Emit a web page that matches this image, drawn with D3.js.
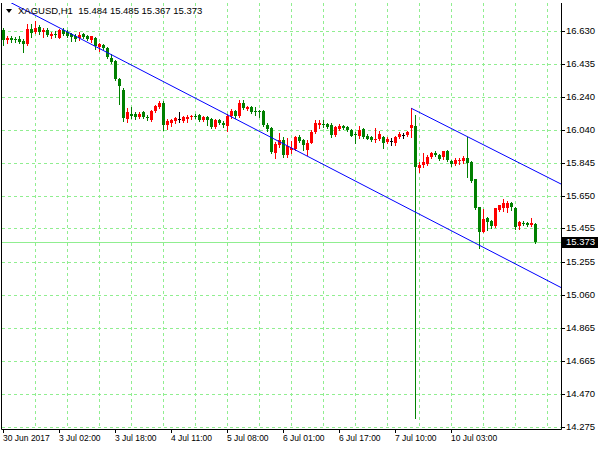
<!DOCTYPE html>
<html><head><meta charset="utf-8">
<script src="https://cdn.jsdelivr.net/npm/d3@7"></script>
<style>
html,body{margin:0;padding:0;background:#fff;}
svg{display:block;font-family:"Liberation Sans",Arial,sans-serif;}
</style>
</head><body>
<svg id="c" width="600" height="450"></svg>
<script>
// ---- data (XAGUSD H1) ----
const symbol = "XAGUSD,H1";
const open = [16.636,16.575,16.591,16.585,16.585,16.573,16.551,16.642,16.622,16.654,16.622,16.636,16.602,16.615,16.590,16.636,16.624,16.612,16.602,16.590,
16.612,16.600,16.578,16.590,16.537,16.547,16.529,16.472,16.451,16.347,16.279,16.106,16.139,16.136,16.116,16.146,16.120,16.100,16.156,16.178,
16.203,16.070,16.084,16.094,16.106,16.096,16.104,16.116,16.126,16.130,16.100,16.116,16.106,16.060,16.100,16.084,16.065,16.124,16.156,16.126,
16.204,16.166,16.180,16.156,16.156,16.154,16.070,16.051,15.903,15.951,15.981,15.892,15.922,15.926,16.001,15.981,15.922,15.965,16.031,16.070,
16.079,16.076,16.070,16.011,16.044,16.066,16.060,16.041,16.018,16.005,16.047,16.007,16.001,15.981,15.987,15.999,15.968,15.977,15.962,16.001,
16.011,16.011,16.051,16.065,15.813,15.832,15.838,15.882,15.906,15.892,15.878,15.917,15.858,15.838,15.856,15.856,15.872,15.852,15.747,15.581,
15.435,15.515,15.501,15.469,15.564,15.574,15.577,15.606,15.577,15.469,15.489,15.489,15.475,15.484];
const high = [16.648,16.600,16.600,16.594,16.600,16.582,16.672,16.672,16.690,16.666,16.645,16.645,16.627,16.630,16.642,16.645,16.636,16.618,16.612,16.622,
16.618,16.606,16.603,16.596,16.556,16.553,16.535,16.493,16.457,16.353,16.291,16.172,16.178,16.148,16.148,16.154,16.130,16.160,16.190,16.211,
16.213,16.104,16.106,16.118,16.150,16.124,16.130,16.132,16.136,16.136,16.124,16.124,16.112,16.106,16.106,16.094,16.136,16.166,16.160,16.219,
16.219,16.184,16.186,16.180,16.158,16.157,16.080,16.056,15.971,16.022,16.001,15.993,15.975,16.008,16.011,15.987,15.981,16.041,16.100,16.100,
16.100,16.082,16.080,16.065,16.074,16.072,16.067,16.047,16.027,16.065,16.053,16.015,16.008,16.051,16.032,16.008,15.999,15.992,16.005,16.026,
16.025,16.035,16.170,16.130,15.850,15.901,15.892,15.912,15.916,15.900,15.918,15.921,15.865,15.874,15.874,15.886,16.001,15.859,15.752,15.585,
15.570,15.523,15.508,15.579,15.597,15.630,15.621,15.615,15.583,15.502,15.501,15.494,15.515,15.485];
const low = [16.547,16.559,16.565,16.565,16.559,16.505,16.547,16.594,16.618,16.612,16.596,16.600,16.591,16.594,16.588,16.606,16.594,16.570,16.570,16.578,
16.588,16.576,16.566,16.523,16.511,16.520,16.469,16.440,16.338,16.195,16.094,16.091,16.115,16.109,16.112,16.112,16.100,16.094,16.148,16.172,
16.041,16.045,16.065,16.082,16.090,16.088,16.088,16.109,16.112,16.094,16.094,16.071,16.053,16.053,16.075,16.059,16.035,16.110,16.112,16.120,
16.164,16.160,16.141,16.130,16.120,16.065,16.035,15.903,15.872,15.939,15.882,15.880,15.904,15.919,15.971,15.922,15.892,15.962,16.021,16.053,
16.059,16.053,15.999,16.005,16.038,16.047,16.035,16.003,15.962,15.993,15.996,15.985,15.975,15.967,15.981,15.932,15.961,15.951,15.954,15.996,
15.991,16.005,16.001,14.326,15.793,15.820,15.832,15.872,15.886,15.862,15.870,15.856,15.826,15.832,15.841,15.844,15.763,15.731,15.570,15.341,
15.433,15.446,15.460,15.463,15.559,15.559,15.553,15.565,15.454,15.454,15.475,15.469,15.469,15.367];
const close = [16.576,16.590,16.576,16.579,16.566,16.554,16.642,16.620,16.650,16.622,16.634,16.606,16.614,16.609,16.636,16.612,16.602,16.594,16.582,16.606,
16.594,16.584,16.598,16.542,16.551,16.527,16.475,16.446,16.344,16.300,16.112,16.148,16.124,16.116,16.139,16.116,16.110,16.156,16.184,16.203,
16.070,16.093,16.100,16.110,16.106,16.116,16.120,16.126,16.121,16.100,16.116,16.100,16.057,16.100,16.081,16.070,16.126,16.156,16.124,16.204,
16.170,16.180,16.148,16.152,16.153,16.070,16.047,15.912,15.956,15.981,15.892,15.946,15.934,16.001,15.975,15.951,15.963,16.031,16.081,16.081,
16.075,16.057,16.014,16.059,16.066,16.051,16.042,16.007,16.015,16.041,16.001,15.990,15.981,15.990,16.015,15.962,15.987,15.977,16.001,16.015,
16.011,16.027,16.070,15.822,15.832,15.852,15.882,15.902,15.892,15.866,15.917,15.862,15.838,15.862,15.860,15.872,15.846,15.737,15.575,15.435,
15.509,15.495,15.469,15.575,15.594,15.608,15.606,15.581,15.465,15.495,15.485,15.475,15.489,15.373];
const priceTicks = [16.630,16.435,16.240,16.040,15.845,15.650,15.455,15.255,15.060,14.865,14.665,14.470,14.275];
const timeLabels = ["30 Jun 2017","3 Jul 02:00","3 Jul 18:00","4 Jul 11:00","5 Jul 08:00","6 Jul 01:00","6 Jul 17:00","7 Jul 10:00","10 Jul 03:00"];
const timeLabelBars = [0,14,28,42,56,70,84,98,112];
const gridBars = [8,16,24,32,40,48,56,64,72,80,88,96,104,112,120,128,136];
const lastPrice = 15.373;
// channel lines: [bar, price] anchor pairs
const lowerLine = [[2.2,16.795],[139.2,15.106]];
const upperLine = [[102,16.170],[139.2,15.722]];

// ---- layout ----
const X0=2, X1=561, Y0=3, Y1=429;
const svg = d3.select("#c");
const x = d3.scaleLinear().domain([0,133]).range([3.3,535.3]);
const y = d3.scaleLinear().domain([14.275,16.630]).range([426.7,31]);
const px = i => Math.floor(x(i));
const py = v => Math.round(y(v));
const gridCol = "#90ee90";

svg.append("defs").append("clipPath").attr("id","plot")
  .append("rect").attr("x",X0).attr("y",Y0).attr("width",X1-X0).attr("height",Y1-Y0);
const plot = svg.append("g").attr("clip-path","url(#plot)");

// grid
plot.selectAll("line.hg").data(priceTicks).join("line")
  .attr("x1",X0).attr("x2",X1).attr("y1",d=>py(d)+0.5).attr("y2",d=>py(d)+0.5)
  .attr("stroke",gridCol).attr("stroke-dasharray","3,3");
plot.selectAll("line.vg").data(gridBars).join("line")
  .attr("y1",Y0).attr("y2",Y1).attr("x1",d=>px(d)+0.5).attr("x2",d=>px(d)+0.5)
  .attr("stroke",gridCol).attr("stroke-dasharray","3,3");

// bid line
plot.append("line").attr("x1",X0).attr("x2",X1)
  .attr("y1",py(lastPrice)+0.5).attr("y2",py(lastPrice)+0.5).attr("stroke",gridCol);

// candles
const idx = d3.range(open.length);
const col = i => close[i]>open[i] ? "#ff0000" : (close[i]<open[i] ? "#008000" : "#000000");
const cg = plot.append("g");
cg.selectAll("line").data(idx).join("line")
  .attr("x1",i=>px(i)+0.5).attr("x2",i=>px(i)+0.5)
  .attr("y1",i=>py(high[i])).attr("y2",i=>py(low[i])+1)
  .attr("stroke",col);
cg.selectAll("rect").data(idx).join("rect")
  .attr("x",i=>px(i)-1).attr("width",3)
  .attr("y",i=>py(Math.max(open[i],close[i])))
  .attr("height",i=>Math.max(1,py(Math.min(open[i],close[i]))-py(Math.max(open[i],close[i]))))
  .attr("fill",col);

// channel lines
function extend(l, b0, b1){
  const [[a,p],[b,q]] = l; const s=(q-p)/(b-a);
  return [[b0,p+(b0-a)*s],[b1,p+(b1-a)*s]];
}
const ln = d3.line().x(d=>x(d[0])).y(d=>y(d[1]));
plot.append("path").attr("d",ln(extend(lowerLine,-5,140))).attr("stroke","#0000ff").attr("fill","none");
plot.append("path").attr("d",ln(extend(upperLine,upperLine[0][0],140))).attr("stroke","#0000ff").attr("fill","none");

// frame
svg.append("path").attr("d",`M${X0-0.5},${Y0} V${Y1+0.5} H${X1+0.5} V${Y0}`)
  .attr("stroke","#000").attr("fill","none");

// right axis
const ra = svg.append("g").attr("font-size","9.5px").attr("fill","#000");
ra.selectAll("line").data(priceTicks).join("line")
  .attr("x1",X1).attr("x2",X1+4).attr("y1",d=>py(d)+0.5).attr("y2",d=>py(d)+0.5).attr("stroke","#000");
ra.selectAll("text").data(priceTicks).join("text")
  .attr("x",X1+5).attr("y",d=>py(d)).attr("dy","0.35em").text(d=>d3.format(".3f")(d));

// bottom axis
const ba = svg.append("g").attr("font-size","8.5px").attr("fill","#000");
ba.selectAll("line").data(timeLabelBars).join("line")
  .attr("x1",d=>px(d)+0.5).attr("x2",d=>px(d)+0.5).attr("y1",Y1).attr("y2",Y1+4).attr("stroke","#000");
ba.selectAll("text").data(timeLabels).join("text")
  .attr("x",(d,i)=>px(timeLabelBars[i])).attr("y",441).text(d=>d);

// last price label
const by = py(lastPrice);
svg.append("rect").attr("x",X1+1).attr("y",by-5).attr("width",36).attr("height",11).attr("fill","#000");
svg.append("text").attr("x",X1+5).attr("y",by).attr("dy","0.35em").attr("font-size","9.5px")
  .attr("fill","#fff").text(d3.format(".3f")(lastPrice));

// title
svg.append("path").attr("d","M6,9 L12,9 L9,13 Z").attr("fill","#000");
svg.append("text").attr("x",18).attr("y",14).attr("font-size","9.5px").style("white-space","pre")
  .text(`${symbol}  ${d3.format(".3f")(open[133])} ${d3.format(".3f")(high[133])} ${d3.format(".3f")(low[133])} ${d3.format(".3f")(close[133])}`);
</script>
</body></html>
